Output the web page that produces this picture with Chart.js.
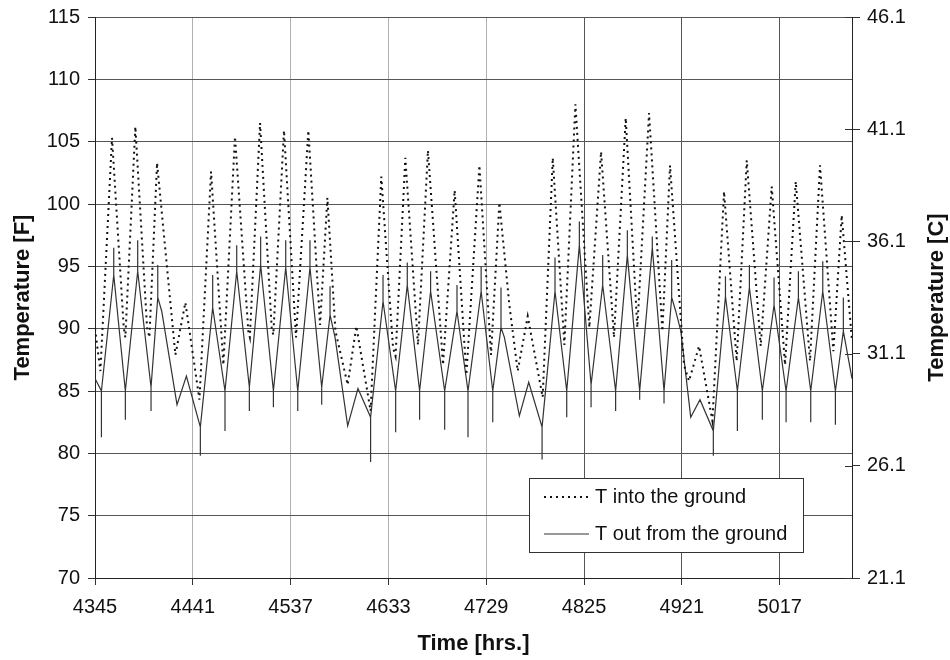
<!DOCTYPE html>
<html>
<head>
<meta charset="utf-8">
<title>Ground loop temperatures</title>
<script src="https://cdn.jsdelivr.net/npm/chart.js@4/dist/chart.umd.min.js"></script>
<style>
  html, body { margin: 0; padding: 0; background: #fff; }
</style>
</head>
<body>
<canvas id="myChart" width="950" height="660"></canvas>
<script>
// tick labels
const hourTicks = [4345, 4441, 4537, 4633, 4729, 4825, 4921, 5017];
const celsiusTicks = [21.1, 26.1, 31.1, 36.1, 41.1, 46.1];

// T into the ground (dotted)
const inHours = [
  4345, 4350.3, 4361.7, 4373.2, 4374.8, 4384.6, 4396.1, 4398.4, 4405.9, 4423.9,
  4433.7, 4447.5, 4458.9, 4471.0, 4482.4, 4495.5, 4497.0, 4507.0, 4518.4, 4520.0,
  4530.5, 4542.3, 4554.4, 4565.9, 4573.1, 4581.0, 4593.0, 4601.5, 4615.5, 4626.0,
  4637.5, 4640.0, 4649.6, 4662.0, 4671.8, 4686.6, 4698.0, 4709.5, 4722.3, 4733.7,
  4741.9, 4751.7, 4759.9, 4769.7, 4784.4, 4794.3, 4805.7, 4816.5, 4830.2, 4841.7,
  4854.4, 4865.9, 4877.3, 4888.8, 4901.9, 4909.4, 4923.1, 4928.0, 4937.9, 4951.0,
  4962.4, 4974.8, 4984.7, 4998.4, 5009.2, 5022.3, 5032.8, 5046.8, 5056.6, 5069.7,
  5077.9, 5088
];
const inTemps = [
  90.0, 86.6, 105.3, 90.1, 89.3, 106.2, 90.1, 89.3, 103.3, 87.9,
  92.1, 84.3, 102.6, 87.1, 105.4, 89.8, 89.3, 106.5, 90.1, 89.5,
  105.9, 89.3, 105.9, 90.3, 100.5, 89.8, 85.5, 90.2, 83.4, 102.2,
  88.5, 87.8, 103.7, 88.7, 104.3, 87.1, 101.1, 86.3, 103.1, 87.9,
  100.1, 91.9, 86.6, 91.0, 84.5, 103.7, 88.7, 108.0, 90.1, 104.2,
  89.3, 106.9, 90.1, 107.3, 89.8, 103.1, 87.1, 85.8, 88.6, 82.6,
  101.0, 87.4, 103.5, 88.6, 101.4, 87.1, 101.8, 87.4, 103.1, 88.2,
  99.1, 89.0
];

// T out from the ground (solid) - spikes repeat the hour
const outHours = [
  4345,
  4351.3, 4351.3, 4351.3,  4363.4, 4363.4, 4363.4,
  4374.8, 4374.8, 4374.8,  4386.9, 4386.9, 4386.9,
  4400.0, 4400.0, 4400.0,  4406.6, 4406.6, 4406.6,
  4410.5, 4425.5, 4434.7,
  4448.4, 4448.4, 4448.4,  4460.5, 4460.5, 4460.5,
  4472.6, 4472.6, 4472.6,  4484.1, 4484.1, 4484.1,
  4496.5, 4496.5, 4496.5,  4507.6, 4507.6, 4507.6,
  4520.1, 4520.1, 4520.1,  4532.2, 4532.2, 4532.2,
  4544.0, 4544.0, 4544.0,  4556.0, 4556.0, 4556.0,
  4567.5, 4567.5, 4567.5,  4575.7, 4575.7, 4575.7,
  4580.6, 4593.0, 4603.1,
  4615.5, 4615.5, 4615.5,  4627.7, 4627.7, 4627.7,
  4640.1, 4640.1, 4640.1,  4651.5, 4651.5, 4651.5,
  4663.6, 4663.6, 4663.6,  4674.4, 4674.4, 4674.4,
  4688.2, 4688.2, 4688.2,  4700.3, 4700.3, 4700.3,
  4711.1, 4711.1, 4711.1,  4724.0, 4724.0, 4724.0,
  4735.4, 4735.4, 4735.4,  4743.5, 4743.5, 4743.5,
  4746.8, 4761.5, 4770.7,
  4783.8, 4783.8, 4783.8,  4796.5, 4796.5, 4796.5,
  4808.0, 4808.0, 4808.0,  4820.4, 4820.4, 4820.4,
  4831.9, 4831.9, 4831.9,  4843.3, 4843.3, 4843.3,
  4856.0, 4856.0, 4856.0,  4867.5, 4867.5, 4867.5,
  4879.6, 4879.6, 4879.6,  4892.0, 4892.0, 4892.0,
  4903.5, 4903.5, 4903.5,  4911.0, 4911.0, 4911.0,
  4915.0, 4920.0, 4929.7, 4938.8,
  4951.9, 4951.9, 4951.9,  4963.8, 4963.8, 4963.8,
  4975.5, 4975.5, 4975.5,  4987.3, 4987.3, 4987.3,
  5000.0, 5000.0, 5000.0,  5011.5, 5011.5, 5011.5,
  5023.3, 5023.3, 5023.3,  5035.4, 5035.4, 5035.4,
  5047.5, 5047.5, 5047.5,  5059.3, 5059.3, 5059.3,
  5071.7, 5071.7, 5071.7,  5079.5, 5079.5, 5079.5,
  5088
];
const outTemps = [
  86.0,
  85.0, 81.3, 85.0,  94.3, 96.5, 94.3,
  85.0, 82.7, 85.0,  94.6, 97.1, 94.6,
  85.3, 83.4, 85.3,  92.5, 95.1, 92.5,
  91.4, 83.9, 86.2,
  82.1, 79.8, 82.1,  91.7, 94.3, 91.7,
  85.0, 81.8, 85.0,  94.6, 96.7, 94.6,
  85.3, 83.4, 85.3,  95.1, 97.4, 95.1,
  85.0, 83.7, 85.0,  94.9, 97.1, 94.9,
  85.0, 83.4, 85.0,  94.9, 97.1, 94.9,
  85.3, 83.9, 85.3,  91.1, 93.4, 91.1,
  89.3, 82.2, 85.2,
  82.9, 79.3, 82.9,  92.2, 94.3, 92.2,
  85.0, 81.7, 85.0,  93.5, 95.3, 93.5,
  85.0, 82.7, 85.0,  93.0, 94.6, 93.0,
  85.0, 81.9, 85.0,  91.4, 93.5, 91.4,
  85.0, 81.3, 85.0,  93.0, 95.0, 93.0,
  85.0, 82.5, 85.0,  90.1, 93.3, 90.1,
  89.3, 83.0, 85.7,
  82.1, 79.5, 82.1,  93.0, 95.7, 93.0,
  85.0, 82.9, 85.0,  96.7, 98.6, 96.7,
  85.5, 83.7, 85.5,  93.5, 95.9, 93.5,
  85.0, 83.4, 85.0,  95.9, 97.9, 95.9,
  85.0, 84.3, 85.0,  96.5, 97.4, 96.5,
  85.0, 84.0, 85.0,  92.5, 95.5, 92.5,
  91.4, 89.8, 82.9, 84.3,
  81.8, 79.8, 81.8,  92.6, 94.2, 92.6,
  85.0, 81.8, 85.0,  93.3, 95.1, 93.3,
  85.0, 82.7, 85.0,  91.9, 94.1, 91.9,
  85.0, 82.5, 85.0,  92.5, 94.6, 92.5,
  85.0, 82.5, 85.0,  93.0, 95.4, 93.0,
  85.0, 82.3, 85.0,  89.8, 92.5, 89.8,
  86.0
];

const FONT = '"Liberation Sans", Arial, sans-serif';

// legend box inside the plot + right axis title / inner tick marks
const extras = {
  id: 'extras',
  afterDraw(chart) {
    const ctx = chart.ctx;
    const area = chart.chartArea;
    ctx.save();

    // right axis ticks poke into the plot a little
    const yc = chart.scales.yC;
    ctx.strokeStyle = '#333';
    ctx.lineWidth = 1;
    celsiusTicks.forEach(v => {
      const py = Math.round(yc.getPixelForValue(v)) + 0.5;
      ctx.beginPath();
      ctx.moveTo(area.right - 7, py);
      ctx.lineTo(area.right, py);
      ctx.stroke();
    });

    // right title, reading bottom to top
    ctx.fillStyle = '#111';
    ctx.font = 'bold 22px ' + FONT;
    ctx.textAlign = 'center';
    ctx.textBaseline = 'middle';
    ctx.translate(937, (area.top + area.bottom) / 2);
    ctx.rotate(-Math.PI / 2);
    ctx.fillText('Temperature [C]', 0, 0);
    ctx.restore();

    // legend
    ctx.save();
    const w = 274, h = 74;
    const x = area.right - 49 - w, y = area.bottom - 26 - h;
    ctx.fillStyle = '#fff';
    ctx.fillRect(x, y, w, h);
    ctx.strokeStyle = '#333';
    ctx.lineWidth = 1;
    ctx.strokeRect(x + 0.5, y + 0.5, w, h);
    chart.data.datasets.forEach((ds, i) => {
      const ly = y + 19 + i * 37;
      ctx.strokeStyle = ds.borderColor;
      ctx.lineWidth = ds.borderWidth;
      ctx.setLineDash(ds.borderDash || []);
      ctx.beginPath();
      ctx.moveTo(x + 15, ly);
      ctx.lineTo(x + 60, ly);
      ctx.stroke();
      ctx.setLineDash([]);
      ctx.fillStyle = '#111';
      ctx.font = '20px ' + FONT;
      ctx.textAlign = 'left';
      ctx.textBaseline = 'middle';
      ctx.fillText(ds.label, x + 66, ly);
    });
    ctx.restore();
  }
};

const ctx = document.getElementById('myChart').getContext('2d');
const myChart = new Chart(ctx, {
  type: 'line',
  data: {
    datasets: [
      {
        label: 'T into the ground',
        data: inHours.map((h, i) => ({ x: h, y: inTemps[i] })),
        borderColor: '#111',
        borderWidth: 2,
        borderDash: [2, 4],
        pointRadius: 0,
        tension: 0,
        yAxisID: 'y'
      },
      {
        label: 'T out from the ground',
        data: outHours.map((h, i) => ({ x: h, y: outTemps[i] })),
        borderColor: '#333',
        borderWidth: 1.2,
        pointRadius: 0,
        tension: 0,
        yAxisID: 'y'
      }
    ]
  },
  options: {
    responsive: false,
    animation: false,
    devicePixelRatio: 1,
    layout: { padding: { top: 17, left: 0, right: 0, bottom: 0 } },
    plugins: {
      legend: { display: false },
      tooltip: { enabled: false }
    },
    scales: {
      x: {
        type: 'linear',
        position: 'bottom',
        min: 4345,
        max: 5088,
        afterBuildTicks: s => { s.ticks = hourTicks.map(v => ({ value: v })); },
        afterFit: s => { s.height = 82; s.paddingLeft = 0; s.paddingRight = 0; },
        ticks: {
          color: '#111',
          font: { family: FONT, size: 20 },
          padding: 10,
          maxRotation: 0,
          callback: v => String(v)
        },
        grid: {
          color: c => (c.tick && c.tick.value >= 4825 ? '#555' : '#b0b0b0'),
          tickColor: '#333',
          tickLength: 7,
          lineWidth: 1
        },
        border: { display: true, color: '#222' },
        title: {
          display: true,
          text: 'Time [hrs.]',
          color: '#111',
          font: { family: FONT, size: 22, weight: 'bold' },
          padding: { top: 2, bottom: 3 }
        }
      },
      y: {
        position: 'left',
        min: 70,
        max: 115,
        afterFit: s => { s.width = 95; s.paddingTop = 0; s.paddingBottom = 0; },
        ticks: {
          stepSize: 5,
          color: '#111',
          font: { family: FONT, size: 20 },
          padding: 8
        },
        grid: {
          color: '#555',
          tickColor: '#333',
          tickLength: 7,
          lineWidth: 1
        },
        border: { display: true, color: '#222' },
        title: {
          display: true,
          text: 'Temperature [F]',
          color: '#111',
          font: { family: FONT, size: 22, weight: 'bold' },
          padding: { top: 10, bottom: 10 }
        }
      },
      yC: {
        position: 'right',
        min: 21.1,
        max: 46.1,
        afterBuildTicks: s => { s.ticks = celsiusTicks.map(v => ({ value: v })); },
        afterFit: s => { s.width = 98; s.paddingTop = 0; s.paddingBottom = 0; },
        ticks: {
          color: '#111',
          font: { family: FONT, size: 20 },
          padding: 7,
          callback: v => Number(v).toFixed(1)
        },
        grid: {
          drawOnChartArea: false,
          color: '#333',
          tickLength: 8
        },
        border: { display: true, color: '#222' }
      }
    }
  },
  plugins: [extras]
});
</script>
</body>
</html>
